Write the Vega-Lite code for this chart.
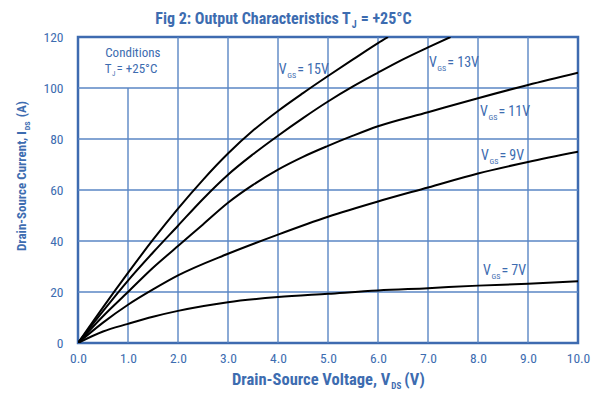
{
  "$schema": "https://vega.github.io/schema/vega-lite/v6.json",
  "width": 500,
  "height": 306,
  "autosize": "none",
  "padding": {"left": 78, "top": 37, "right": 18, "bottom": 51},
  "config": {
    "font": "Roboto Condensed, Liberation Sans Narrow, DejaVu Sans Condensed, Roboto, sans-serif",
    "view": {"stroke": "#3e6bb0", "strokeWidth": 2.5}
  },
  "datasets": {
    "curves": [
      {"vgs": "15V", "x": 0, "y": 0}, {"vgs": "15V", "x": 0.5, "y": 14}, {"vgs": "15V", "x": 1, "y": 27.5}, {"vgs": "15V", "x": 1.5, "y": 40.5}, {"vgs": "15V", "x": 2, "y": 52.7}, {"vgs": "15V", "x": 2.5, "y": 64}, {"vgs": "15V", "x": 3, "y": 74.3}, {"vgs": "15V", "x": 3.5, "y": 83.3}, {"vgs": "15V", "x": 4, "y": 91}, {"vgs": "15V", "x": 4.5, "y": 98}, {"vgs": "15V", "x": 5, "y": 104.7}, {"vgs": "15V", "x": 5.5, "y": 111.2}, {"vgs": "15V", "x": 6, "y": 117.6}, {"vgs": "15V", "x": 6.2, "y": 120},
      {"vgs": "13V", "x": 0, "y": 0}, {"vgs": "13V", "x": 0.5, "y": 12.5}, {"vgs": "13V", "x": 1, "y": 24.5}, {"vgs": "13V", "x": 1.5, "y": 35.5}, {"vgs": "13V", "x": 2, "y": 46}, {"vgs": "13V", "x": 2.5, "y": 56.5}, {"vgs": "13V", "x": 3, "y": 66}, {"vgs": "13V", "x": 3.5, "y": 74}, {"vgs": "13V", "x": 4, "y": 81.3}, {"vgs": "13V", "x": 4.5, "y": 88.2}, {"vgs": "13V", "x": 5, "y": 94.7}, {"vgs": "13V", "x": 5.5, "y": 100.6}, {"vgs": "13V", "x": 6, "y": 106}, {"vgs": "13V", "x": 6.5, "y": 111.2}, {"vgs": "13V", "x": 7, "y": 115.9}, {"vgs": "13V", "x": 7.45, "y": 120},
      {"vgs": "11V", "x": 0, "y": 0}, {"vgs": "11V", "x": 0.5, "y": 10.5}, {"vgs": "11V", "x": 1, "y": 20}, {"vgs": "11V", "x": 1.5, "y": 29.5}, {"vgs": "11V", "x": 2, "y": 38}, {"vgs": "11V", "x": 2.5, "y": 46.5}, {"vgs": "11V", "x": 3, "y": 55}, {"vgs": "11V", "x": 3.5, "y": 62}, {"vgs": "11V", "x": 4, "y": 68}, {"vgs": "11V", "x": 4.5, "y": 73}, {"vgs": "11V", "x": 5, "y": 77.3}, {"vgs": "11V", "x": 5.5, "y": 81.3}, {"vgs": "11V", "x": 6, "y": 85}, {"vgs": "11V", "x": 7, "y": 90.5}, {"vgs": "11V", "x": 8, "y": 96}, {"vgs": "11V", "x": 9, "y": 101.2}, {"vgs": "11V", "x": 10, "y": 106},
      {"vgs": "9V", "x": 0, "y": 0}, {"vgs": "9V", "x": 0.5, "y": 8}, {"vgs": "9V", "x": 1, "y": 15}, {"vgs": "9V", "x": 1.5, "y": 21}, {"vgs": "9V", "x": 2, "y": 26.5}, {"vgs": "9V", "x": 3, "y": 35}, {"vgs": "9V", "x": 4, "y": 42.5}, {"vgs": "9V", "x": 5, "y": 49.5}, {"vgs": "9V", "x": 6, "y": 55.5}, {"vgs": "9V", "x": 7, "y": 61}, {"vgs": "9V", "x": 8, "y": 66.5}, {"vgs": "9V", "x": 9, "y": 71}, {"vgs": "9V", "x": 10, "y": 75},
      {"vgs": "7V", "x": 0, "y": 0}, {"vgs": "7V", "x": 0.5, "y": 4.5}, {"vgs": "7V", "x": 1, "y": 7.5}, {"vgs": "7V", "x": 1.5, "y": 10.3}, {"vgs": "7V", "x": 2, "y": 12.6}, {"vgs": "7V", "x": 3, "y": 16}, {"vgs": "7V", "x": 4, "y": 18}, {"vgs": "7V", "x": 5, "y": 19.3}, {"vgs": "7V", "x": 6, "y": 20.6}, {"vgs": "7V", "x": 7, "y": 21.5}, {"vgs": "7V", "x": 8, "y": 22.5}, {"vgs": "7V", "x": 9, "y": 23.2}, {"vgs": "7V", "x": 10, "y": 24.2}
    ],
    "vgrid": [
      {"x": 1, "y": 0, "y2": 100}, {"x": 2, "y": 0, "y2": 120}, {"x": 3, "y": 0, "y2": 120}, {"x": 4, "y": 0, "y2": 120}, {"x": 5, "y": 0, "y2": 120},
      {"x": 6, "y": 0, "y2": 120}, {"x": 7, "y": 0, "y2": 120}, {"x": 8, "y": 0, "y2": 120}, {"x": 9, "y": 0, "y2": 120}
    ],
    "hgrid": [
      {"y": 20, "x": 0, "x2": 10}, {"y": 40, "x": 0, "x2": 10}, {"y": 60, "x": 0, "x2": 10}, {"y": 80, "x": 0, "x2": 10}, {"y": 100, "x": 0, "x2": 10}
    ],
    "vgslabels": [
      {"x": 4.174, "y": 105.6, "main": "V", "sub": "GS", "rest": "= 15V"},
      {"x": 7.177, "y": 108.2, "main": "V", "sub": "GS", "rest": "= 13V"},
      {"x": 8.198, "y": 89.1, "main": "V", "sub": "GS", "rest": "= 11V"},
      {"x": 8.218, "y": 71.6, "main": "V", "sub": "GS", "rest": "= 9V"},
      {"x": 8.258, "y": 26.8, "main": "V", "sub": "GS", "rest": "= 7V"}
    ],
    "titletext": [{"x": 5.455, "y": 125.2, "main": "Fig 2: Output Characteristics T", "sub": "J", "rest": "= +25°C"}],
    "cond1": [{"x": 0.545, "y": 112.2, "main": "Conditions"}],
    "cond2": [{"x": 0.671, "y": 106.0, "main": "T", "sub": "J", "rest": "= +25°C"}],
    "xtitle": [{"x": 6.246, "y": -16.35, "main": "Drain-Source Voltage, V", "sub": "DS", "rest": "(V)"}],
    "ytitle": [{"x": -1.037, "y": 83.06, "main": "Drain-Source Current, I", "sub": "DS", "rest": "(A)"}]
  },
  "encoding": {
    "x": {"field": "x", "type": "quantitative", "scale": {"domain": [0, 10], "nice": false, "zero": false},
      "axis": {"values": [0, 1, 2, 3, 4, 5, 6, 7, 8, 9, 10], "format": ".1f", "title": null, "grid": false, "domain": false, "ticks": false, "labelFlush": false, "labelPadding": 8, "labelColor": "#3d6cb0", "labelFontSize": 13.5, "labelFont": "Roboto Condensed, Liberation Sans Narrow, DejaVu Sans Condensed, Roboto, sans-serif"}},
    "y": {"field": "y", "type": "quantitative", "scale": {"domain": [0, 120], "nice": false, "zero": false},
      "axis": {"values": [0, 20, 40, 60, 80, 100, 120], "title": null, "grid": false, "domain": false, "ticks": false, "labelFlush": false, "labelPadding": 15, "labelColor": "#3d6cb0", "labelFontSize": 13.5, "labelFont": "Roboto Condensed, Liberation Sans Narrow, DejaVu Sans Condensed, Roboto, sans-serif"}}
  },
  "layer": [
    {
      "data": {"name": "vgrid"},
      "mark": {"type": "rule", "color": "#5a86c4", "strokeWidth": 1.4},
      "encoding": {"y2": {"field": "y2"}}
    },
    {
      "data": {"name": "hgrid"},
      "mark": {"type": "rule", "color": "#5a86c4", "strokeWidth": 1.4},
      "encoding": {"x2": {"field": "x2"}}
    },
    {
      "data": {"name": "curves"},
      "mark": {"type": "line", "color": "black", "strokeWidth": 2, "interpolate": "monotone", "clip": true},
      "encoding": {"detail": {"field": "vgs", "type": "nominal"}}
    },
    {
      "data": {"name": "vgslabels"},
      "mark": {"type": "text", "align": "right", "baseline": "alphabetic", "color": "#3d6cb0", "fontSize": 14},
      "encoding": {"text": {"field": "main"}}
    },
    {
      "data": {"name": "vgslabels"},
      "mark": {"type": "text", "align": "left", "baseline": "alphabetic", "color": "#3d6cb0", "fontSize": 8, "dx": 0.5, "dy": 4},
      "encoding": {"text": {"field": "sub"}}
    },
    {
      "data": {"name": "vgslabels"},
      "mark": {"type": "text", "align": "left", "baseline": "alphabetic", "color": "#3d6cb0", "fontSize": 14, "dx": 10.5},
      "encoding": {"text": {"field": "rest"}}
    },
    {
      "data": {"name": "titletext"},
      "mark": {"type": "text", "align": "right", "baseline": "alphabetic", "color": "#3d6cb0", "fontSize": 16, "fontWeight": "bold"},
      "encoding": {"text": {"field": "main"}}
    },
    {
      "data": {"name": "titletext"},
      "mark": {"type": "text", "align": "left", "baseline": "alphabetic", "color": "#3d6cb0", "fontSize": 10, "fontWeight": "bold", "dx": 1, "dy": 4},
      "encoding": {"text": {"field": "sub"}}
    },
    {
      "data": {"name": "titletext"},
      "mark": {"type": "text", "align": "left", "baseline": "alphabetic", "color": "#3d6cb0", "fontSize": 16, "fontWeight": "bold", "dx": 10},
      "encoding": {"text": {"field": "rest"}}
    },
    {
      "data": {"name": "cond1"},
      "mark": {"type": "text", "align": "left", "baseline": "alphabetic", "color": "#3d6cb0", "fontSize": 13},
      "encoding": {"text": {"field": "main"}}
    },
    {
      "data": {"name": "cond2"},
      "mark": {"type": "text", "align": "right", "baseline": "alphabetic", "color": "#3d6cb0", "fontSize": 13},
      "encoding": {"text": {"field": "main"}}
    },
    {
      "data": {"name": "cond2"},
      "mark": {"type": "text", "align": "left", "baseline": "alphabetic", "color": "#3d6cb0", "fontSize": 7, "dx": 0.5, "dy": 3},
      "encoding": {"text": {"field": "sub"}}
    },
    {
      "data": {"name": "cond2"},
      "mark": {"type": "text", "align": "left", "baseline": "alphabetic", "color": "#3d6cb0", "fontSize": 13, "dx": 5},
      "encoding": {"text": {"field": "rest"}}
    },
    {
      "data": {"name": "xtitle"},
      "mark": {"type": "text", "align": "right", "baseline": "alphabetic", "color": "#3d6cb0", "fontSize": 16.5, "fontWeight": "bold"},
      "encoding": {"text": {"field": "main"}}
    },
    {
      "data": {"name": "xtitle"},
      "mark": {"type": "text", "align": "left", "baseline": "alphabetic", "color": "#3d6cb0", "fontSize": 9, "fontWeight": "bold", "dx": 1, "dy": 4},
      "encoding": {"text": {"field": "sub"}}
    },
    {
      "data": {"name": "xtitle"},
      "mark": {"type": "text", "align": "left", "baseline": "alphabetic", "color": "#3d6cb0", "fontSize": 16.5, "fontWeight": "bold", "dx": 14},
      "encoding": {"text": {"field": "rest"}}
    },
    {
      "data": {"name": "ytitle"},
      "mark": {"type": "text", "align": "right", "baseline": "alphabetic", "color": "#3d6cb0", "fontSize": 13, "fontWeight": "bold", "angle": 270},
      "encoding": {"text": {"field": "main"}}
    },
    {
      "data": {"name": "ytitle"},
      "mark": {"type": "text", "align": "left", "baseline": "alphabetic", "color": "#3d6cb0", "fontSize": 8, "fontWeight": "bold", "angle": 270, "dx": 1, "dy": 4},
      "encoding": {"text": {"field": "sub"}}
    },
    {
      "data": {"name": "ytitle"},
      "mark": {"type": "text", "align": "left", "baseline": "alphabetic", "color": "#3d6cb0", "fontSize": 13, "fontWeight": "bold", "angle": 270, "dx": 14},
      "encoding": {"text": {"field": "rest"}}
    }
  ]
}
